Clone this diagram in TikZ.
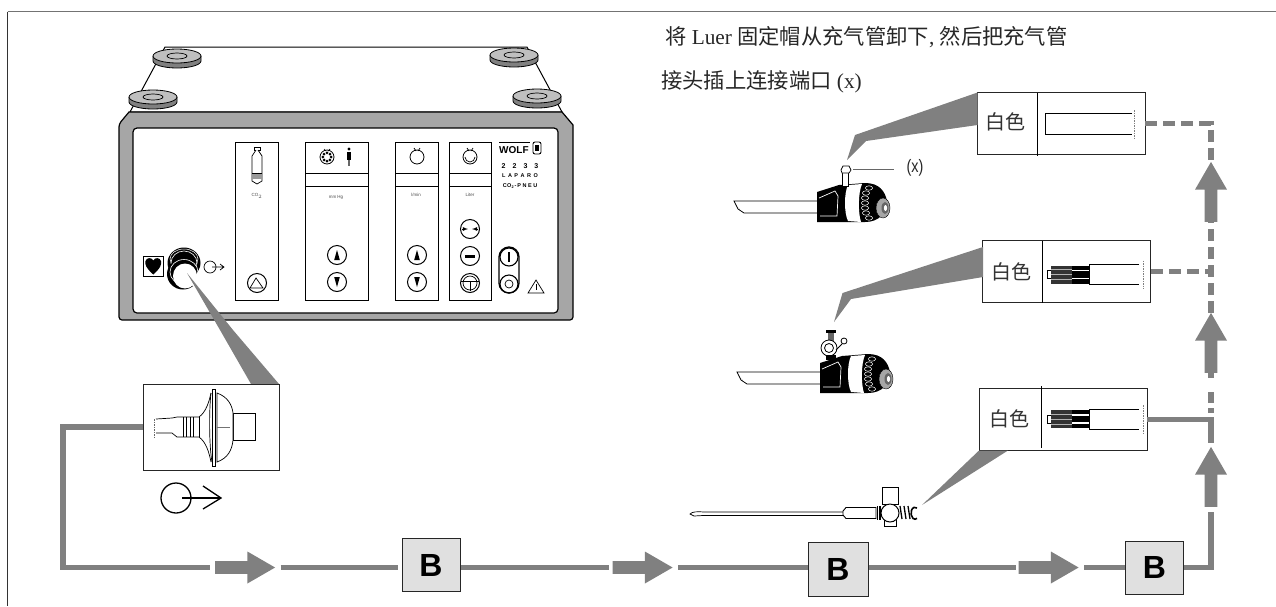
\documentclass[tikz,border=0pt]{standalone}
\usepackage{fontspec}
\setmainfont{Liberation Serif}
\setsansfont{Liberation Sans}
\newfontfamily\cjk{Noto Sans CJK SC}
\usetikzlibrary{shapes.arrows,calc}
\definecolor{pipe}{HTML}{808080}
\definecolor{bfill}{HTML}{E0E0E0}
\tikzset{
  pipeline/.style={draw=pipe,line width=5.5pt},
  pipedash/.style={pipeline,dash pattern=on 12pt off 6pt},
  pipedot/.style={pipeline,dash pattern=on 5pt off 14pt on 11pt off 5pt},
  pointer/.style={fill=pipe,draw=none},
  insetbox/.style={draw=black!85,line width=.8pt,fill=white,minimum width=168pt,minimum height=62pt,inner sep=0pt},
  bbox/.style={draw=black!85,line width=1pt,fill=bfill,minimum width=58pt,minimum height=53pt,inner sep=0pt,font=\sffamily\bfseries\fontsize{32}{32}\selectfont},
  flowarrow/.style={single arrow,fill=pipe,draw=none,inner sep=6.25pt,minimum width=32pt,minimum height=60pt,single arrow head extend=9.5pt,single arrow tip angle=60,single arrow head indent=0pt},
  up/.style={shape border rotate=90},
  cjklabel/.style={inner sep=0pt,font=\cjk\fontsize{20}{20}\selectfont,text=black!80},
  panelcol/.style={draw=black,line width=1pt,fill=white},
  tiny/.style={inner sep=0pt,font=\sffamily\fontsize{4.5}{5}\selectfont,text=black!70},
  brand/.style={inner sep=0pt,font=\sffamily\bfseries\fontsize{6}{6}\selectfont},
  btn/.style={draw=black,line width=1pt,fill=white},
  thin/.style={line width=.7pt},
  scopebody/.pic={
    \draw[thin,fill=white] (2,18) -- (-83,18) -- (-79,26) -- (-73,30) -- (2,30) -- cycle;
    \draw[line width=.5pt,dotted] (-81,22) -- (-77,27);
    \fill[black] (0,9) -- (22,2) -- (48,0) .. controls (62,0) and (68,8) .. (70,18) .. controls (70,30) and (62,39) .. (48,39) -- (0,39) -- cycle;
    \fill[white] (31,2) .. controls (27,10) and (27,30) .. (31,38) -- (44,39) .. controls (41,30) and (41,10) .. (45,1) -- cycle;
    \foreach \yy/\xx in {5/52,10/49,15/48,20/48,25/48,30/49,35/52}{\draw[white,line width=.5pt] (\xx,\yy) ellipse (3.6pt and 2.2pt);}
    \draw[white,line width=.7pt] (2,15) -- (18,8) -- (21,13) -- (20,33) -- (3,33);
    \fill[black!35] (66,25) ellipse (7pt and 10pt);
    \draw[black,line width=.4pt] (66,25) ellipse (7pt and 10pt);
    \fill[black!60] (68,25) ellipse (3.5pt and 6pt);
    \fill[white] (68.5,25) ellipse (1.6pt and 3pt);
  },
  luer/.pic={
    \draw[thin,fill=white] (0,-4) rectangle (4,4);
    \fill[black!80] (4,-9) rectangle (25,9);
    \foreach \yy in {-5,0,5}{\draw[white!70!black,line width=.5pt] (4,\yy) -- (25,\yy);}
    \fill[black] (25,-9) rectangle (42,9);
    \foreach \yy in {-4,4}{\draw[white,line width=1.3pt] (25,\yy) -- (42,\yy);}
    \draw[thin] (92,-10) -- (42,-10) -- (42,10) -- (92,10);
    \draw[black!50,line width=.5pt,dash pattern=on 1.5pt off 1pt] (96,-14) -- (96,14);
  },
}
\newcommand{\upbtn}[2]{\draw[btn] (#1,#2) circle (9.5pt); \fill (#1,#2-5) -- (#1-2.8,#2+5) -- (#1+2.8,#2+5) -- cycle;}
\newcommand{\dnbtn}[2]{\draw[btn] (#1,#2) circle (9.5pt); \fill (#1,#2+5) -- (#1-2.8,#2-5) -- (#1+2.8,#2-5) -- cycle;}
\newcommand{\foot}[2]{%
  \draw[line width=.8pt,fill=black!50] (#1-24,#2) -- (#1-24,#2+5) arc[start angle=180,end angle=360,x radius=24pt,y radius=7pt] -- (#1+24,#2);
  \draw[line width=.8pt,fill=black!25] (#1,#2) ellipse (24pt and 7pt);
  \draw[line width=.7pt] (#1,#2) ellipse (10pt and 3pt);}
\begin{document}
\begin{tikzpicture}[x=1pt,y=-1pt]
\useasboundingbox (0,0) rectangle (1276,606);
% frame
\draw[black!55,line width=1pt] (7.5,11.5) -- (1276,11.5);
\draw[black!80,line width=1pt] (7.5,11.5) -- (7.5,606);
% device top
\draw[line width=1pt,fill=white] (130,112) -- (165,47) -- (527,47) -- (562,112) -- cycle;
\foot{177}{56}\foot{153}{97}\foot{514}{55}\foot{537}{96}
% device front
\draw[line width=1.2pt,fill=black!35] (129,112) -- (562,112) -- (573,125) -- (573,316) [rounded corners=3pt] -- (573,320) -- (119,320) -- (119,124) [sharp corners] -- cycle;
\draw[line width=1.2pt,fill=white,rounded corners=4pt] (133,128) rectangle (558,313);
% columns
\foreach \xa/\xb in {305/368,395/438,449/491}{
  \draw[panelcol] (\xa,142) rectangle (\xb,300);
  \draw[line width=1pt] (\xa,173) -- (\xb,173) (\xa,186) -- (\xb,186);
}
\draw[panelcol] (235,142) rectangle (278,300);
% bottle
\draw[line width=.7pt,fill=white] (254,147) rectangle (260,150);
\draw[line width=.7pt,fill=white] (256,150) -- (252,156) -- (252,181) -- (257,184) -- (262,181) -- (262,156) -- (258,150);
\fill[black!40] (252,173) rectangle (262,179);
\draw[line width=.6pt] (252,173) -- (262,173);
\node[tiny] (lco) at (257,196) {CO$_2$};
\node[tiny] (lmm) at (336,197) {mm Hg};
\node[tiny] (lmin) at (416,195) {l/min};
\node[tiny] (llit) at (470,195) {Liter};
% col 1 button
\draw[btn] (257,283) circle (9.5pt);
\draw[line width=.7pt] (250,288) -- (256,278) -- (263,288) -- cycle;
% col 2 symbols
\draw[line width=.8pt,fill=white] (327,157) circle (7pt);
\foreach \a in {0,45,...,315}{\fill (327,157) ++(\a:4.2) circle (1.5pt);}
\draw[line width=.7pt] (324,149) -- (326,151) (330,149) -- (328,151);
\fill (349,149) circle (1.7pt);
\fill (347,152) rectangle (351,160);
\fill[black!60] (348,160) rectangle (350,166);
\upbtn{337}{255}\dnbtn{337}{282}
% col 3
\draw[line width=.8pt] (417,157) circle (7pt);
\draw[line width=.7pt] (414,148) -- (416,151) (420,148) -- (418,151);
\upbtn{417}{255}\dnbtn{417}{282}
% col 4
\draw[line width=.8pt] (470,157) circle (7pt);
\draw[line width=.7pt] (467,148) -- (469,151) (473,148) -- (471,151);
\draw[line width=.7pt] (465,157) arc[start angle=180,end angle=360,radius=5pt];
\draw[btn] (470,229) circle (9.5pt);
\draw[line width=.8pt,-latex] (462,229) -- (468,229);
\draw[line width=.8pt,-latex] (478,229) -- (472,229);
\draw[btn] (470,256) circle (9.5pt);
\fill (465,254.5) rectangle (475,257.5);
\draw[btn] (470,283) circle (9.5pt);
\draw[line width=.7pt] (470,283) circle (7pt);
\draw[line width=.8pt] (461,281) -- (479,281) (470,281) -- (470,291);
% power
\draw[line width=1.3pt,fill=white,rounded corners=10pt] (499,247) rectangle (519,293);
\draw[line width=1.1pt] (509,257) circle (9pt);
\draw[line width=1.3pt] (509,252) -- (509,262);
\draw[line width=1.1pt] (509,284) circle (9pt);
\draw[line width=.7pt] (509,284) circle (4pt);
\draw[line width=.7pt] (528,293) -- (536,280) -- (544,293) -- cycle;
\draw[line width=.7pt] (536,284) -- (536,290);
% logo
\node[brand,font=\sffamily\bfseries\fontsize{10}{10}\selectfont,anchor=west] (wolf) at (499,150.5) {WOLF};
\draw[line width=.9pt,fill=white,rounded corners=2pt] (533,142) rectangle (541,154);
\fill (535,145) rectangle (539,151);
\draw[line width=1.4pt] (499,142.5) -- (530,142.5);
\node[brand,font=\sffamily\bfseries\fontsize{7}{7}\selectfont] (n1) at (520,166) {2\hspace{7pt}2\hspace{7pt}3\hspace{7pt}3};
\node[brand,font=\sffamily\bfseries\fontsize{5.5}{5.5}\selectfont] (n2) at (520,176) {L\hspace{2.5pt}A\hspace{2.5pt}P\hspace{2.5pt}A\hspace{2.5pt}R\hspace{2.5pt}O};
\node[brand,font=\sffamily\bfseries\fontsize{5.5}{5.5}\selectfont] (n3) at (520,186) {C\hspace{.5pt}O\textsubscript{2}\hspace{.5pt}-\hspace{1pt}P\hspace{1.5pt}N\hspace{1.5pt}E\hspace{1.5pt}U};
% heart
\draw[line width=1pt,fill=white] (143.3,256) rectangle (163.3,276);
\fill (153.3,274.5) .. controls (146,268) and (144.5,264) .. (145.5,261) .. controls (146.5,257.5) and (151.5,257) .. (153.3,260.5) .. controls (155,257) and (160,257.5) .. (161,261) .. controls (162,264) and (160.6,268) .. (153.3,274.5) -- cycle;
% port
\fill (184,263) ellipse (16.5pt and 15.5pt);
\draw[white,line width=.6pt] (184,263) ellipse (13pt and 12pt);
\draw[white,line width=.5pt] (184,259) ellipse (14pt and 10pt);
\fill (183,274) ellipse (16pt and 15.5pt);
\draw[white,line width=.6pt] (184,272) ellipse (14pt and 12.5pt);
\fill[white] (185,276) ellipse (12pt and 12.5pt);
\fill[white] (190,285) -- (200,268) -- (203,288) -- cycle;
% out symbol
\draw[line width=.7pt] (210,267) circle (6pt);
\draw[line width=.7pt] (212,267) -- (224,267) (220,264) -- (224,267) -- (220,270);
% pointers
\fill[pointer] (187,273) -- (220,330) -- (251,384) -- (279,384) -- (233,330) -- cycle;
% inset 0
\node[insetbox,minimum width=136pt,minimum height=86pt] (inset0) at (211,427) {};
\draw[black!60,line width=.5pt,dash pattern=on 1.5pt off 1pt] (154,419) -- (154,437);
\draw[thin] (156,419) -- (172,418) -- (177,417) -- (199,417) .. controls (206,412) and (209,402) .. (211,393);
\draw[thin] (156,433) -- (172,433) -- (177,437) -- (199,437) .. controls (206,442) and (209,452) .. (211,462);
\draw[thin] (183,417) -- (183,437) (186,417) -- (186,437) (190,417) -- (190,437) (193,417) -- (193,437) (199,417) -- (199,437);
\draw[thin,fill=white] (233,413) rectangle (255,440);
\draw[thin,fill=white] (217,393) .. controls (228,397) and (232,405) .. (233,413) -- (233,440) .. controls (232,450) and (228,458) .. (217,462) -- cycle;
\draw[thin,fill=white] (212,389) rectangle (215.5,466);
\draw[thin] (211,393) .. controls (209,410) and (209,445) .. (212,462);
\draw[black!55,line width=1pt] (217,427) -- (230,427);
% out symbol large
\node[draw,circle,line width=1.3pt,minimum size=30pt,inner sep=0pt] (outsym) at (176,498) {};
\coordinate (outtip) at (221,498);
\draw[line width=1.3pt] (outsym.center) ++(6,0) -- (outtip);
\draw[line width=1.3pt] (203,486) -- (outtip) -- (203,509);
% B boxes
\node[bbox] (B1) at (431,565) {\raisebox{-4.5pt}{B}};
\node[bbox,minimum width=60pt,minimum height=54pt] (B2) at (838,569) {\raisebox{-3pt}{B}};
\node[bbox,minimum height=53pt] (B3) at (1154.5,567.5) {\raisebox{-2.5pt}{B}};
% flow arrows
\node[flowarrow] (a1) at (239.5,567.5) {};
\node[flowarrow] (a2) at (637,567.5) {};
\node[flowarrow] (a3) at (1043,567.5) {};
\node[flowarrow,up] (a4) at (1211,482.5) {};
\node[flowarrow,up] (a5) at (1211,348.5) {};
\node[flowarrow,up] (a6) at (1211,197.5) {};
% insets
\node[insetbox] (box1) at (1061,123.5) {};
\node[insetbox] (box2) at (1066.5,271.5) {};
\node[insetbox] (box3) at (1063,419.5) {};
\draw[line width=.8pt] (1037,92.5) -- (1037,156);
\draw[line width=.8pt] (1042,240.5) -- (1042,302.5);
\draw[line width=.8pt] (1041,386) -- (1041,448);
\node[cjklabel] (w1) at (1005,122) {白色};
\node[cjklabel] (w2) at (1011,272) {白色};
\node[cjklabel] (w3) at (1009,419) {白色};
\draw[thin] (1132,113) -- (1045,113) -- (1045,134) -- (1132,134);
\draw[black!50,line width=.5pt,dash pattern=on 1.5pt off 1pt] (1134,110) -- (1134,138);
\pic at (1047,274.5) {luer};
\pic at (1047,419) {luer};
% inset pointers
\fill[pointer] (977.5,92.5) -- (855,135) -- (847,160) -- (866,141) -- (977.5,125) -- cycle;
\fill[pointer] (983,247) -- (842.5,293) -- (834,322) -- (851,299) -- (983,277) -- cycle;
\fill[pointer] (979,450.5) -- (922,505) -- (1008,450.5) -- cycle;
% instruments
\pic at (817,183) {scopebody};
\pic at (820,354) {scopebody};
% nipple
\draw[thin,fill=white] (842.5,173) -- (842.5,186) -- (848.5,186) -- (848.5,173);
\draw[thin,fill=white] (842,173) -- (841,170) -- (843,166) -- (849,166) -- (851,170) -- (849,173) -- cycle;
\draw[black!60,line width=.8pt] (853,169.5) -- (894,169.5);
\node[inner sep=0pt,font=\sffamily\fontsize{18}{18}\selectfont,xscale=.8,text=black!85] (xlabel) at (915,168) {(x)};
% valve on scope 2
\fill (826,330) rectangle (836,333);
\fill[black!60] (828,333) rectangle (834,341);
\draw[line width=.8pt,fill=white] (829,348) circle (8pt);
\draw[line width=.8pt,fill=white] (829,348) circle (4.5pt);
\draw[line width=.8pt,fill=white] (844,341) circle (3pt);
\draw[line width=1pt] (836,350) -- (842,344);
\fill (826,355) rectangle (836,360);
% instrument 3
\draw[thin,fill=white] (690,514) .. controls (692,511.5) and (698,511.5) .. (704,512) -- (845,512) -- (845,515.5) -- (703,515.5) -- (694,516) -- cycle;
\draw[line width=.9pt,fill=white] (846,507.5) -- (876,507.5) -- (876,518.5) -- (846,518.5) -- (843,515) -- (843,511) -- cycle;
\draw[line width=.9pt,fill=white] (882.5,487) rectangle (898.5,504);
\draw[line width=.9pt,fill=white] (884,518) rectangle (896,526);
\draw[line width=1pt,fill=white] (890,513) circle (9pt);
\fill (877,506) rectangle (881,520);
\draw[white,line width=.6pt] (878.5,506) -- (878.5,520);
\foreach \xx in {900,904,908}{\draw[line width=1.3pt] (\xx,506) -- (\xx+2,519);}
\draw[line width=1.6pt] (917,508) arc[start angle=60,end angle=300,x radius=4pt,y radius=6pt];
% connectors
\coordinate (c0) at (63,427);
\coordinate (c1) at (63,567.5);
\coordinate (c2) at (1211,567.5);
\draw[pipeline,line join=miter] (inset0.west) -- (c0) -- (c1) -- ($(a1.tail)+(-5,0)$);
\draw[pipeline] ($(a1.tip)+(5,0)$) -- ($(B1.west)+(-3.5,2.5)$);
\draw[pipeline] (B1.east |- a2) -- ($(a2.tail)+(-3,0)$);
\draw[pipeline] ($(a2.tip)+(5,0)$) -- (a2 -| B2.west);
\draw[pipeline] (B2.east |- a3) -- ($(a3.tail)+(-2,0)$);
\draw[pipeline] ($(a3.tip)+(5,0)$) -- (a3 -| B3.west);
\draw[pipeline,line join=miter] (B3.east) -- (c2) -- ($(a4.tail)+(0,5)$);
\draw[pipeline,line join=miter] (box3.east) -- (box3.east -| a4) -- ($(a4.tip)+(0,-4)$);
\draw[pipedot] (a5.tail) -- (box3.east -| a5);
\draw[pipedash] (box2.east) -- (box2.east -| a5);
\draw[pipedash] (a5.tip) -- (a6.tail);
\draw[pipedash] (box1.east) -- (box1.east -| a6) -- (a6.tip);
% text
\node[anchor=west,inner sep=0pt,font=\fontsize{21.3}{21.3}\selectfont,text=black!85] (t1) at (665,37) {{\cjk 将} Luer {\cjk 固定帽从充气管卸下}, {\cjk 然后把充气管}};
\node[anchor=west,inner sep=0pt,font=\fontsize{21.3}{21.3}\selectfont,text=black!85] (t2) at (661,82) {{\cjk 接头插上连接端口} (x)};
\end{tikzpicture}
\end{document}
